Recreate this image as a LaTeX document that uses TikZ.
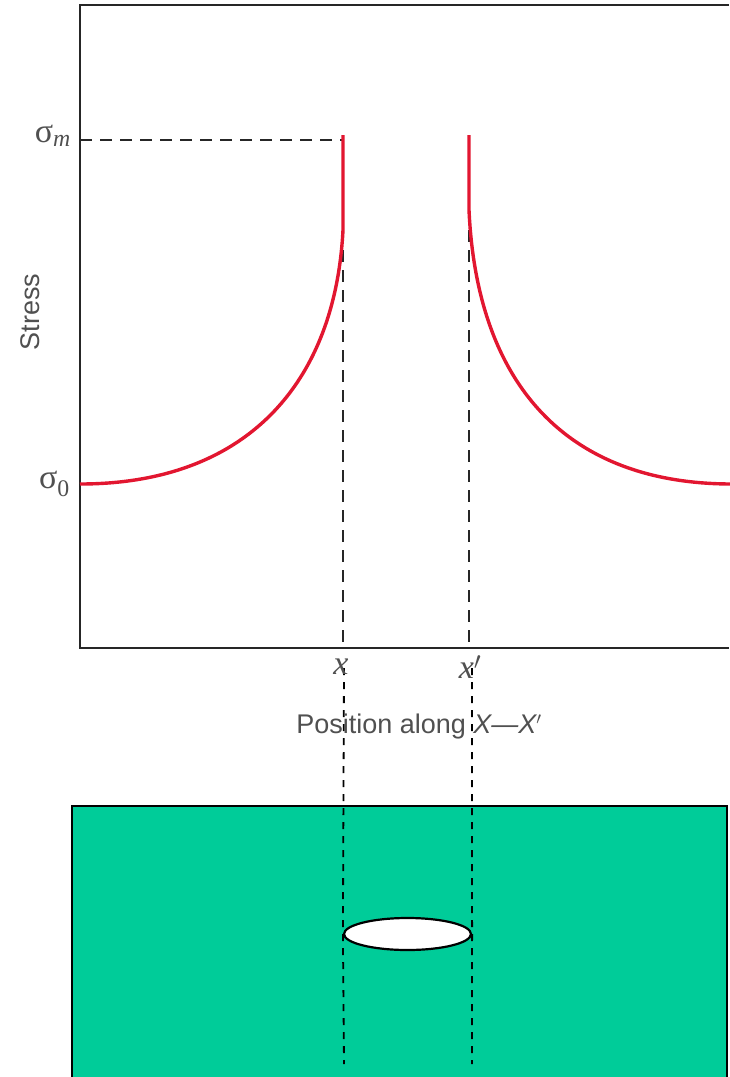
\documentclass[tikz,border=0pt]{standalone}
\usepackage{fontspec}
\setmainfont{Liberation Serif}
\setsansfont{Liberation Sans}
\usetikzlibrary{shapes.geometric}
\definecolor{curvered}{RGB}{226,22,48}
\definecolor{plategreen}{RGB}{0,204,153}
\definecolor{labelgray}{RGB}{80,80,80}
\newcommand{\bigtext}{\fontsize{27}{30}\selectfont}
\newcommand{\symtext}{\fontsize{34}{36}\selectfont}

\begin{document}
\begin{tikzpicture}[x=1pt, y=-1pt,
	axisline/.style={line width=2.4pt, draw=black!85},
	guide/.style={line width=2pt, draw=black!85, dash pattern=on 12pt off 8pt},
	longguide/.style={line width=1.8pt, draw=black, dash pattern=on 7pt off 7pt},
	stresscurve/.style={line width=3.4pt, draw=curvered},
	label/.style={inner sep=0pt, text=labelgray, font=\bigtext}]
	\useasboundingbox (0, 0) rectangle (729, 1077);
	% Axes of the stress plot:
	\coordinate (top left) at (80, 5);
	\coordinate (bottom left) at (80, 648);
	\draw[axisline] (729, 5) -- (top left) -- (bottom left) -- (729, 648);
	% Plate with the hole:
	\draw[line width=2.8pt, fill=plategreen] (72, 806) rectangle (727, 1090);
	\node[shape=ellipse, draw, fill=white, line width=2.2pt, minimum width=127pt, minimum height=32pt, inner sep=0pt] (hole) at (407.5, 934){};
	% Guides from the hole ends:
	\coordinate (x top) at (343, 230);
	\coordinate (x' top) at (469, 210);
	\draw[guide] (80, 140) -- (343, 140);
	\draw[guide] (x top) -- (343, 648);
	\draw[guide] (x' top) -- (469, 648);
	\draw[longguide] (344, 668) -- (hole.west) -- (344, 1064);
	\draw[longguide] (472, 668) -- (hole.east) -- (472, 1064);
	% Stress curves:
	\draw[stresscurve] (80, 484) .. controls (245, 484) and (335, 385) .. (x top) -- (343, 135);
	\draw[stresscurve] (469, 135) -- (x' top) .. controls (477, 385) and (567, 484) .. (732, 484);
	% Labels:
	\node[label, font=\symtext, anchor=east] (sigma m) at (71, 136){σ\textsubscript{\itshape m}};
	\node[label, font=\symtext, anchor=east] (sigma 0) at (70, 484){σ\textsubscript{0}};
	\node[label, font=\bigtext\sffamily, rotate=90] (stress) at (30, 312){Stress};
	\node[label, font=\symtext\itshape] (x) at (341, 667){x};
	\node[label, font=\symtext\itshape] (x') at (470, 667){x\/$'$};
	\node[label] (position) at (419, 727){\sffamily Position along \itshape X—X$'$};
\end{tikzpicture}
\end{document}
